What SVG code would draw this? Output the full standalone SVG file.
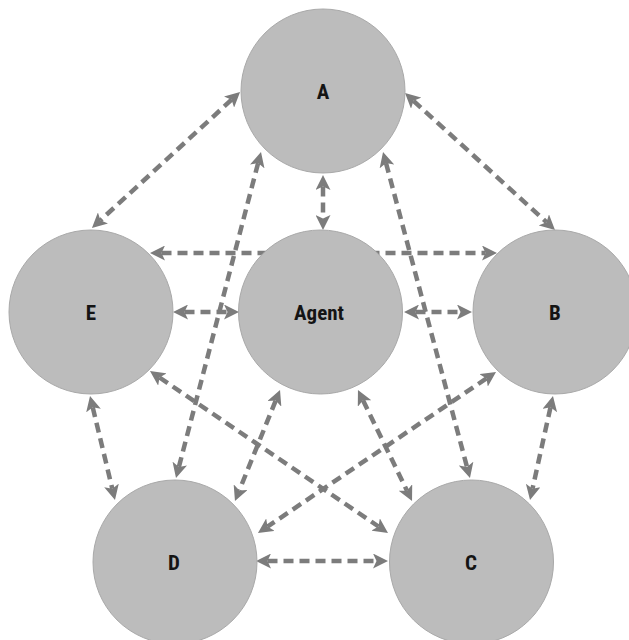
<svg xmlns="http://www.w3.org/2000/svg" width="629" height="640" viewBox="0 0 629 640">
<style>
.conn{fill:none;stroke:#7c7c7c;stroke-width:4.5;stroke-dasharray:10 6;marker-start:url(#ah);marker-end:url(#ah)}
.node{fill:#bcbcbc;stroke:#a9a9a9;stroke-width:1}
.lbl{font-family:"Liberation Sans Narrow","Roboto Condensed","Liberation Sans",Arial,sans-serif;font-weight:bold;font-size:21px;fill:#141414;text-anchor:middle}
</style>
<defs>
<marker id="ah" viewBox="0 0 15 15" refX="3.5" refY="7.5" markerWidth="15" markerHeight="15" markerUnits="userSpaceOnUse" orient="auto-start-reverse">
<path d="M0,0 L15,7.5 L0,15 L3.5,7.5 z" fill="#7c7c7c"/>
</marker>
</defs>
<rect width="629" height="640" fill="#ffffff"/>
<g id="connectors">
<line class="conn" x1="231.6" y1="99.7" x2="100.4" y2="220.3"/>
<line class="conn" x1="413.5" y1="100.8" x2="546.5" y2="222.2"/>
<line class="conn" x1="323" y1="186.5" x2="323" y2="218.5"/>
<line class="conn" x1="258.1" y1="163.1" x2="178.9" y2="466.9"/>
<line class="conn" x1="386" y1="163" x2="467" y2="467"/>
<line class="conn" x1="161.5" y1="253" x2="485.5" y2="253"/>
<line class="conn" x1="184.5" y1="312" x2="227.5" y2="312"/>
<line class="conn" x1="415.5" y1="312" x2="460.5" y2="312"/>
<line class="conn" x1="159.5" y1="377.5" x2="378.5" y2="526.5"/>
<line class="conn" x1="92.7" y1="407.2" x2="112.3" y2="488.8"/>
<line class="conn" x1="275.7" y1="400.6" x2="239.3" y2="490.4"/>
<line class="conn" x1="363" y1="400.3" x2="407" y2="490.7"/>
<line class="conn" x1="486.5" y1="378.4" x2="267.5" y2="526.6"/>
<line class="conn" x1="550.5" y1="407.2" x2="532.5" y2="488.8"/>
<line class="conn" x1="267.5" y1="561" x2="376.5" y2="561"/>
</g>
<g id="node-A"><circle class="node" cx="323" cy="91" r="82"/><text class="lbl" x="323" y="99">A</text></g>
<g id="node-E"><circle class="node" cx="91" cy="312" r="82"/><text class="lbl" x="91" y="320">E</text></g>
<g id="node-Agent"><circle class="node" cx="320.5" cy="312" r="82"/><text class="lbl" x="319" y="320">Agent</text></g>
<g id="node-B"><circle class="node" cx="555" cy="312" r="82"/><text class="lbl" x="555" y="320">B</text></g>
<g id="node-D"><circle class="node" cx="175" cy="562" r="82"/><text class="lbl" x="174" y="570">D</text></g>
<g id="node-C"><circle class="node" cx="471.5" cy="562" r="82"/><text class="lbl" x="471" y="570">C</text></g>
</svg>
